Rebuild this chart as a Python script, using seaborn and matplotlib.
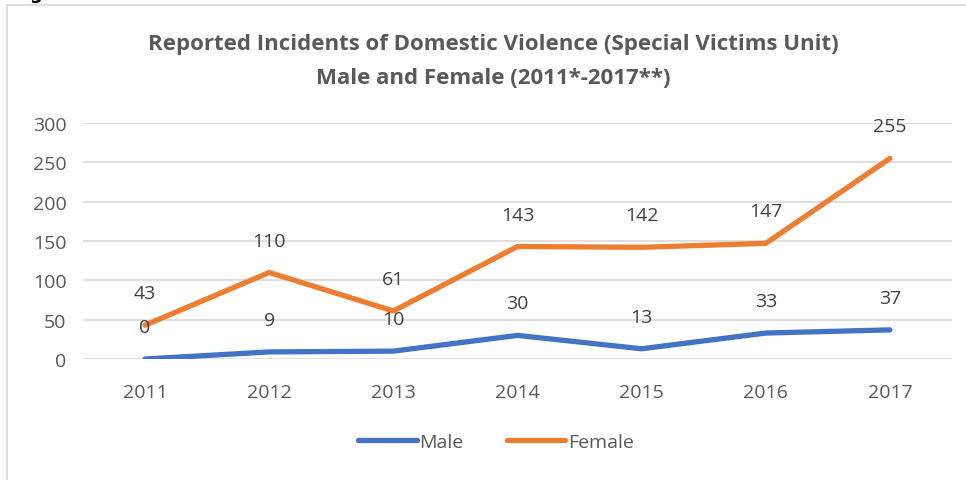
import pandas as pd
import matplotlib.pyplot as plt
import seaborn as sns

# Data
years = ["2011", "2012", "2013", "2014", "2015", "2016", "2017"]
male = [0, 9, 10, 30, 13, 33, 37]
female = [43, 110, 61, 143, 142, 147, 255]

df = pd.DataFrame({
    "Year": years * 2,
    "Count": male + female,
    "Sex": ["Male"] * len(years) + ["Female"] * len(years),
})

sns.set_style("white")
plt.rcParams["font.family"] = ["Open Sans", "DejaVu Sans"]

W, H = 966, 481
fig = plt.figure(figsize=(W / 100, H / 100), dpi=100)

# chart frame (top and left edges visible)
fig.add_artist(plt.Line2D([7 / W, 1], [1 - 6 / H, 1 - 6 / H], color="#D9D9D9", lw=1.2))
fig.add_artist(plt.Line2D([7 / W, 7 / W], [0, 1 - 6 / H], color="#D9D9D9", lw=1.2))

# remnant of caption above the chart
fig.text(36 / W, 1 + 6 / H, "g", fontsize=13, fontweight="bold", color="black",
         ha="center", va="center", family="DejaVu Sans")

ax = fig.add_axes([83 / W, 1 - 360 / H, (952 - 83) / W, (360 - 124) / H])

palette = {"Male": "#4472C4", "Female": "#ED7D31"}
sns.lineplot(data=df, x="Year", y="Count", hue="Sex", palette=palette, sort=False,
             lw=3.8, solid_capstyle="round", ax=ax, legend=False)

ax.set_xlim(-0.5, 6.5)
ax.set_ylim(0, 300)
ax.set_yticks(range(0, 301, 50))
ax.grid(axis="y", color="#D9D9D9", lw=1.2)
ax.set_axisbelow(True)
for s in ax.spines.values():
    s.set_visible(False)
ax.tick_params(axis="both", length=0, labelsize=14, labelcolor="#595959")
ax.tick_params(axis="x", pad=17)
ax.tick_params(axis="y", pad=12)
ax.set_xlabel("")
ax.set_ylabel("")

# data labels above each point
for i in range(len(years)):
    ax.annotate(str(male[i]), (i, male[i]), xytext=(0, 23), textcoords="offset points",
                ha="center", va="center", fontsize=14, color="#404040")
    ax.annotate(str(female[i]), (i, female[i]), xytext=(0, 23), textcoords="offset points",
                ha="center", va="center", fontsize=14, color="#404040")

fig.text(493 / W, 1 - 45 / H, "Reported Incidents of Domestic Violence (Special Victims Unit)",
         ha="center", va="center", fontsize=16, fontweight="bold", color="#595959")
fig.text(493 / W, 1 - 78 / H, "Male and Female (2011*-2017**)",
         ha="center", va="center", fontsize=16, fontweight="bold", color="#595959")

# legend
handles = [plt.Line2D([], [], color=palette[k], lw=3.8, solid_capstyle="round") for k in ["Male", "Female"]]
fig.legend(handles, ["Male", "Female"], loc="center", bbox_to_anchor=(496 / W, 1 - 443 / H),
           ncol=2, frameon=False, fontsize=14, labelcolor="#595959",
           handlelength=3, handletextpad=0.15, columnspacing=2.2)

fig.savefig("out.png", dpi=100)
